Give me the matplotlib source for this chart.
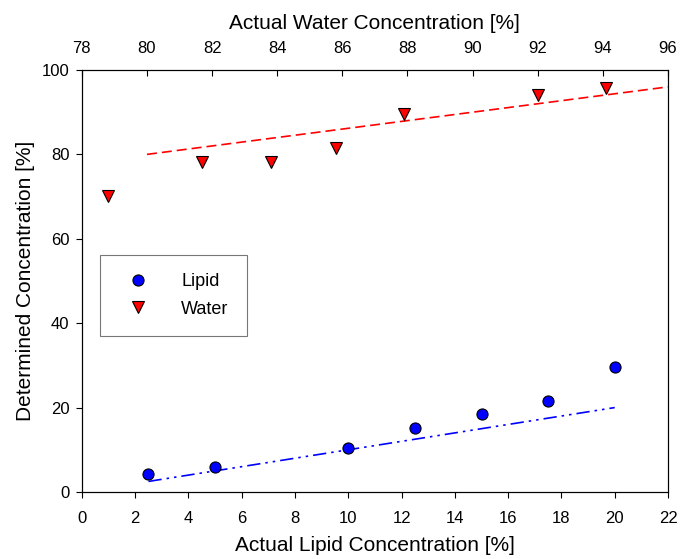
import matplotlib
matplotlib.use("Agg")
import matplotlib.pyplot as plt
from matplotlib.lines import Line2D

plt.rcParams['font.family'] = ['Liberation Sans', 'DejaVu Sans']

lipid_actual = [2.5, 5, 10, 12.5, 15, 17.5, 20]
lipid_determined = [4.2, 6.0, 10.4, 15.2, 18.4, 21.6, 29.6]
water_actual = [78.8, 81.7, 83.8, 85.8, 87.9, 92.0, 94.1]
water_determined = [70.1, 78.2, 78.2, 81.5, 89.6, 94.1, 95.7]
lipid_ideal_x = [2.5, 20]
water_ideal_x = [80, 96]

fig = plt.figure(figsize=(6.82, 5.59), dpi=100)
ax = fig.add_axes([0.120, 0.1199, 0.8595, 0.7549])
ax2 = ax.twiny()

ax.plot(lipid_ideal_x, lipid_ideal_x, color='blue', lw=1.2, dashes=[8, 3, 1.5, 3, 1.5, 3])
ax.plot(lipid_actual, lipid_determined, 'o', color='blue', mec='black', mew=0.8, ms=8)
ax2.plot(water_ideal_x, water_ideal_x, color='red', lw=1.2, dashes=[6, 3])
ax2.plot(water_actual, water_determined, 'v', color='red', mec='black', mew=0.8, ms=8.5)

ax.set_xlim(0, 22)
ax.set_ylim(0, 100)
ax2.set_xlim(78, 96)
ax.set_xticks(range(0, 23, 2))
ax.set_yticks(range(0, 101, 20))
ax2.set_xticks(range(78, 97, 2))

ax.tick_params(axis='x', direction='out', labelsize=12, length=4, pad=10)
ax.tick_params(axis='y', direction='out', labelsize=12, length=4, pad=5, right=False)
ax2.tick_params(axis='x', direction='in', labelsize=12, length=4, pad=10)

ax.set_xlabel('Actual Lipid Concentration [%]', fontsize=15, labelpad=7)
ax.set_ylabel('Determined Concentration [%]', fontsize=15, labelpad=5)
ax2.set_xlabel('Actual Water Concentration [%]', fontsize=15, labelpad=9)

handles = [
    Line2D([], [], ls='none', marker='o', color='blue', mec='black', mew=0.8, ms=8),
    Line2D([], [], ls='none', marker='v', color='red', mec='black', mew=0.8, ms=8.5),
]
leg = ax.legend(handles, ['Lipid', 'Water'], loc='upper left', bbox_to_anchor=(0.031, 0.562),
                fontsize=13, frameon=True, fancybox=False, edgecolor='#555555',
                handletextpad=1.3, borderpad=1.0, labelspacing=0.6, borderaxespad=0,
                handlelength=2.2)
leg.get_frame().set_linewidth(0.8)

fig.savefig('out.png', dpi=100)
